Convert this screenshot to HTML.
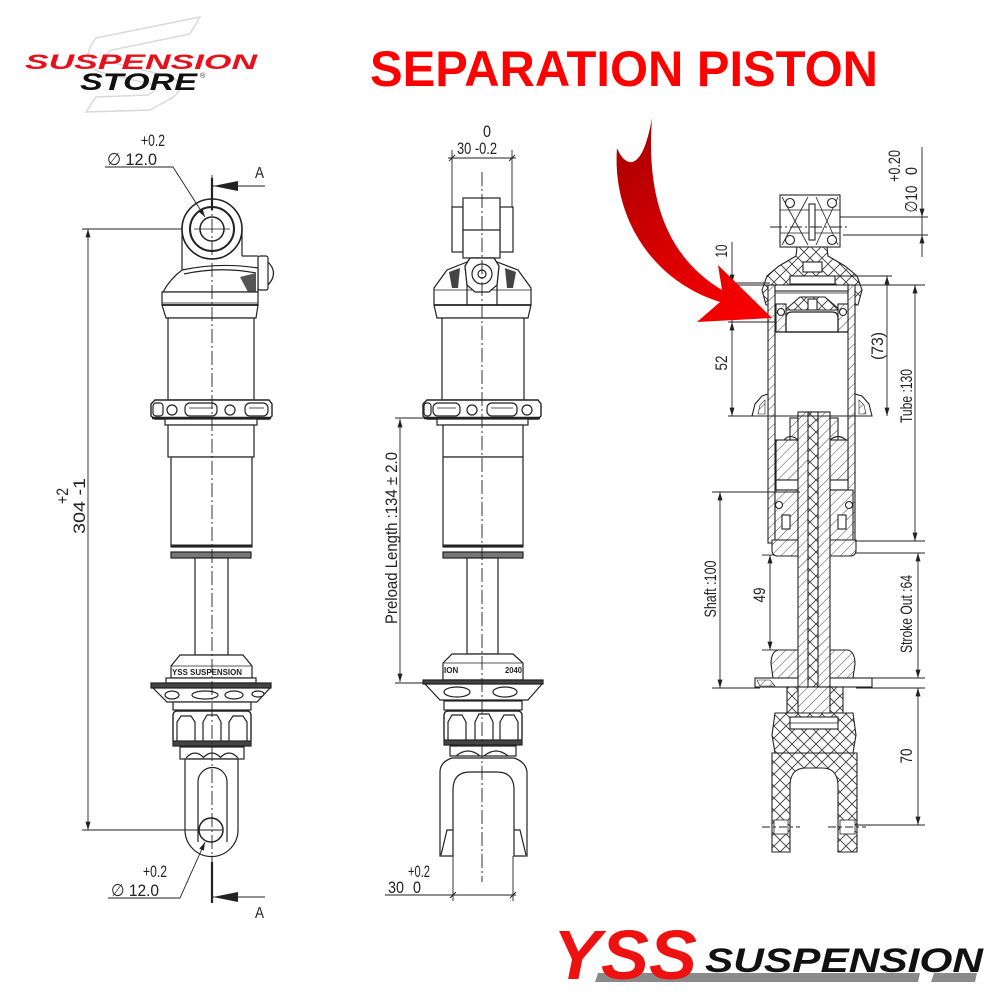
<!DOCTYPE html>
<html><head><meta charset="utf-8"><style>
html,body{margin:0;padding:0;background:#fff;}
svg{display:block;}
text{font-family:"Liberation Sans",sans-serif;}
</style></head><body>
<svg width="1000" height="1000" viewBox="0 0 1000 1000" xmlns="http://www.w3.org/2000/svg">
<defs>
<marker id="ar" viewBox="0 0 10 6" refX="10" refY="3" markerWidth="10" markerHeight="5" markerUnits="userSpaceOnUse" orient="auto-start-reverse"><path d="M0,0 L10,3 L0,6 z" fill="#222"/></marker>
<pattern id="diag" width="7" height="7" patternUnits="userSpaceOnUse" patternTransform="rotate(45)"><rect width="7" height="7" fill="#fff"/><line x1="0" y1="0" x2="0" y2="7" stroke="#333" stroke-width="0.9"/></pattern>
<pattern id="cross" width="12" height="12" patternUnits="userSpaceOnUse"><rect width="12" height="12" fill="#fff"/><path d="M0,0 L12,12 M12,0 L0,12" stroke="#333" stroke-width="0.8"/></pattern>
<linearGradient id="rg" x1="620" y1="130" x2="772" y2="318" gradientUnits="userSpaceOnUse"><stop offset="0" stop-color="#a80000"/><stop offset="0.5" stop-color="#d60000"/><stop offset="1" stop-color="#ff0000"/></linearGradient>
</defs>

<!-- ===== Top-left logo ===== -->
<g fill="none" stroke="#d9d9d9" stroke-width="1.5">
<path d="M96,38 L200,17 L190,34 L112,50 Q100,56 110,62 L168,76 Q190,84 172,98 L150,110 L86,112 L96,97 L148,95 Q160,88 150,84 L100,72 Q78,62 96,38 Z"/>
</g>
<text x="25" y="69" font-size="21" font-weight="bold" font-style="italic" fill="#e8101a" textLength="232" lengthAdjust="spacingAndGlyphs">SUSPENSION</text>
<text x="80" y="90" font-size="24" font-weight="bold" font-style="italic" fill="#111" textLength="117" lengthAdjust="spacingAndGlyphs">STORE</text>
<text x="200" y="78" font-size="7" fill="#333">®</text>

<!-- ===== Title ===== -->
<text x="370" y="86" font-size="50" font-weight="bold" fill="#ff0000" textLength="508" lengthAdjust="spacingAndGlyphs">SEPARATION PISTON</text>

<!-- ===== LEFT SHOCK ===== -->
<g fill="#fff" stroke="#222" stroke-width="1.2">
<line x1="182" y1="229" x2="182" y2="272"/>
<line x1="242" y1="229" x2="242" y2="256"/>
<line x1="242" y1="256" x2="258" y2="256"/>
<circle cx="212" cy="229" r="30" fill="none" stroke-width="1.6"/>
<circle cx="212" cy="229" r="22" fill="none" stroke-width="2"/>
<circle cx="212" cy="229" r="12" fill="none" stroke-width="1.5"/>
<line x1="194" y1="229" x2="230" y2="229" stroke-width="0.7"/>
<rect x="258" y="256" width="10" height="34" rx="2"/>
<path d="M268,262 Q279,273 268,285" fill="none"/>
<path d="M182,270 Q170,279 163,292 L258,292 L258,268 Q220,262 182,270 Z"/>
<path d="M184,274 Q220,266 256,273" fill="none"/>
<polygon points="240,277 256,273 256,292 248,292" fill="#555" stroke="none"/>
<rect x="162" y="292" width="96" height="13"/>
<line x1="162" y1="303" x2="258" y2="303" stroke-width="0.8"/>
<path d="M162,305 L166,318 L256,318 L258,305 Z"/>
<line x1="162" y1="305" x2="258" y2="305" stroke-width="1.8"/>
<rect x="168" y="318" width="86" height="82"/>
<path d="M151,404 L155,400 L269,400 L272,404 L272,416 L269,419 L155,419 L151,416 Z" stroke-width="1.4"/>
<rect x="185" y="403" width="32" height="13" rx="5"/>
<line x1="189" y1="408" x2="213" y2="408" stroke-width="0.8"/>
<rect x="245" y="403" width="23" height="13" rx="5"/>
<line x1="249" y1="408" x2="264" y2="408" stroke-width="0.8"/>
<rect x="153" y="403" width="10" height="13" rx="3"/>
<circle cx="172" cy="410" r="5"/>
<circle cx="230" cy="410" r="5"/>
<line x1="152" y1="418" x2="271" y2="418" stroke-width="2.5"/>
<rect x="165" y="419" width="92" height="6"/>
<rect x="168" y="425" width="86" height="32"/>
<rect x="171" y="457" width="81" height="90"/>
<line x1="171" y1="546" x2="252" y2="546" stroke-width="3"/>
<rect x="171" y="552" width="80" height="6" fill="#777"/>
<rect x="195" y="558" width="33" height="97"/>
<path d="M180,655 L243,655 L252,666 L252,678 L171,678 L171,666 Z"/>
<line x1="172" y1="666" x2="251" y2="666" stroke-width="0.8"/>
<rect x="166" y="678" width="90" height="5"/>
<rect x="151" y="683" width="120" height="5" fill="#444"/>
<path d="M153,688 L167,702 L257,702 L270,688 Z"/>
<ellipse cx="172" cy="695" rx="7" ry="4"/>
<ellipse cx="205" cy="695" rx="13" ry="4"/>
<ellipse cx="234" cy="695" rx="9" ry="4"/>
<ellipse cx="258" cy="694" rx="6" ry="3"/>
<rect x="173" y="702" width="78" height="8"/>
<rect x="173" y="711" width="78" height="33" rx="4" stroke-width="1.4"/>
<path d="M177,742 L177,722 L181,716 L191,716 L195,722 L195,742 M203,742 L203,722 L207,715 L217,715 L221,722 L221,742 M229,742 L229,722 L233,716 L243,716 L247,722 L247,742" fill="none"/>
<rect x="173" y="741" width="78" height="5" fill="#444"/>
<rect x="180" y="747" width="64" height="12"/>
<path d="M186,758 Q195,748 204,758 M203,758 Q212,748 221,758 M220,758 Q229,748 238,758" fill="none"/>
<path d="M185,759 L185,830 A26.5,26.5 0 0 0 238,830 L238,759 Z"/>
<path d="M198,842 L198,782 A14.5,14.5 0 0 1 227,782 L227,842" fill="none"/>
<circle cx="211" cy="830" r="12" stroke-width="1.5"/>
</g>
<text x="172" y="675" font-size="8" font-weight="bold" fill="#222" textLength="70" lengthAdjust="spacingAndGlyphs">YSS SUSPENSION</text>
<line x1="212" y1="175" x2="212" y2="885" stroke="#222" stroke-width="0.9" stroke-dasharray="14,3,2,3"/>
<g stroke="#222" stroke-width="0.9" fill="none">
<line x1="82" y1="229" x2="182" y2="229"/>
<line x1="82" y1="830" x2="222" y2="830"/>
<line x1="88" y1="229" x2="88" y2="830" marker-start="url(#ar)" marker-end="url(#ar)"/>
<polyline points="105,167 173,167 205,217" marker-end="url(#ar)"/>
<polyline points="108,898 180,898 205,842" marker-end="url(#ar)"/>
<line x1="212" y1="178" x2="212" y2="210" stroke-width="2.2"/>
<line x1="213" y1="186" x2="265" y2="186"/>
<line x1="212" y1="862" x2="212" y2="903" stroke-width="2.2"/>
<line x1="213" y1="897" x2="265" y2="897"/>
</g>
<polygon points="213,186 238,181 238,191" fill="#222"/>
<polygon points="213,897 238,892 238,902" fill="#222"/>
<g fill="#222" font-size="17">
<text x="255" y="178" font-size="16" textLength="9" lengthAdjust="spacingAndGlyphs">A</text>
<text x="255" y="918" font-size="16" textLength="9" lengthAdjust="spacingAndGlyphs">A</text>
<text x="141" y="146" textLength="24" lengthAdjust="spacingAndGlyphs">+0.2</text>
<text x="107" y="165" textLength="50" lengthAdjust="spacingAndGlyphs">∅ 12.0</text>
<text x="143" y="877" textLength="24" lengthAdjust="spacingAndGlyphs">+0.2</text>
<text x="111" y="896" textLength="48" lengthAdjust="spacingAndGlyphs">∅ 12.0</text>
<text transform="translate(68,496) rotate(-90)" text-anchor="middle" font-size="17" textLength="16" lengthAdjust="spacingAndGlyphs">+2</text>
<text transform="translate(85,506) rotate(-90)" text-anchor="middle" font-size="17" textLength="56" lengthAdjust="spacingAndGlyphs">304 -1</text>
</g>

<!-- ===== MIDDLE SHOCK ===== -->
<g fill="#fff" stroke="#222" stroke-width="1.2">
<rect x="452" y="207" width="11" height="45"/>
<rect x="500" y="207" width="13" height="45"/>
<rect x="463" y="198" width="37" height="60"/>
<line x1="463" y1="230" x2="500" y2="230"/>
<path d="M467,262 L447,270 L434,288 L434,305 L437,318 L528,318 L531,305 L531,288 L518,270 L497,262 Z"/>
<line x1="434" y1="290" x2="531" y2="290" stroke-width="0.8"/>
<line x1="434" y1="305" x2="531" y2="305" stroke-width="1.8"/>
<polygon points="449,272 460,268 458,288 452,288" fill="#444" stroke="none"/>
<polygon points="516,272 505,268 507,288 513,288" fill="#444" stroke="none"/>
<path d="M470,258 L494,258 L499,266 L497,285 L497,305 M467,305 L467,285 L465,266 L470,258" fill="none"/>
<path d="M470,258 L494,258 L499,266 L497,285 L489,292 L475,292 L467,285 L465,266 Z"/>
<circle cx="482" cy="274" r="10"/>
<circle cx="482" cy="274" r="4"/>
<rect x="442" y="318" width="82" height="82"/>
<path d="M423,404 L427,400 L538,400 L541,404 L541,416 L538,419 L427,419 L423,416 Z" stroke-width="1.4"/>
<rect x="433" y="403" width="27" height="13" rx="5"/>
<line x1="437" y1="408" x2="456" y2="408" stroke-width="0.8"/>
<rect x="487" y="403" width="30" height="13" rx="5"/>
<line x1="491" y1="408" x2="513" y2="408" stroke-width="0.8"/>
<rect x="424" y="403" width="7" height="13" rx="3"/>
<circle cx="472" cy="410" r="5"/>
<circle cx="527" cy="410" r="5"/>
<line x1="424" y1="418" x2="540" y2="418" stroke-width="2.5"/>
<rect x="437" y="419" width="91" height="6"/>
<rect x="443" y="425" width="80" height="32"/>
<rect x="443" y="457" width="80" height="90"/>
<line x1="443" y1="546" x2="523" y2="546" stroke-width="3"/>
<rect x="443" y="552" width="80" height="6" fill="#777"/>
<rect x="467" y="558" width="31" height="96"/>
<path d="M452,654 L513,654 L523,663 L523,680 L443,680 L443,663 Z"/>
<line x1="444" y1="663" x2="522" y2="663" stroke-width="0.8"/>
<rect x="423" y="680" width="120" height="4" fill="#444"/>
<path d="M425,684 L440,700 L528,700 L542,684 Z"/>
<ellipse cx="457" cy="692" rx="13" ry="5"/>
<ellipse cx="505" cy="692" rx="12" ry="5"/>
<rect x="444" y="701" width="78" height="9"/>
<rect x="444" y="711" width="78" height="31" rx="4" stroke-width="1.4"/>
<path d="M448,740 L448,722 L452,715 L462,715 L466,722 L466,740 M475,740 L475,722 L479,714 L489,714 L493,722 L493,740 M500,740 L500,722 L504,715 L514,715 L518,722 L518,740" fill="none"/>
<rect x="444" y="740" width="78" height="5" fill="#444"/>
<rect x="450" y="746" width="66" height="10"/>
<path d="M456,756 Q468,746 480,756 M484,756 Q496,746 508,756" fill="none"/>
<path d="M440,856 L440,772 Q440,762 452,758 L514,758 Q526,762 527,772 L527,856 L514,856 L514,790 Q514,772 497,772 L470,772 Q453,772 453,790 L453,856 Z"/>
<path d="M441,855 L447,830 L453,830 M526,855 L520,830 L514,830" fill="none"/>
</g>
<text x="444" y="673" font-size="8" font-weight="bold" fill="#222">ION</text>
<text x="505" y="673" font-size="8" font-weight="bold" fill="#222" textLength="17" lengthAdjust="spacingAndGlyphs">2040</text>
<line x1="482" y1="172" x2="482" y2="882" stroke="#222" stroke-width="0.9" stroke-dasharray="14,3,2,3"/>
<g stroke="#222" stroke-width="0.9" fill="none">
<line x1="452" y1="150" x2="452" y2="207"/>
<line x1="512" y1="150" x2="512" y2="207"/>
<line x1="448" y1="158" x2="516" y2="158"/>
<path d="M449,161 L455,155 M509,161 L515,155"/>
<line x1="453" y1="856" x2="453" y2="901"/>
<line x1="513" y1="856" x2="513" y2="901"/>
<line x1="385" y1="895" x2="516" y2="895"/>
<path d="M450,898 L456,892 M510,898 L516,892"/>
<line x1="395" y1="418" x2="437" y2="418"/>
<line x1="395" y1="683" x2="423" y2="683"/>
<line x1="400" y1="419" x2="400" y2="682" marker-start="url(#ar)" marker-end="url(#ar)"/>
</g>
<g fill="#222" font-size="17">
<text x="487" y="137" text-anchor="middle" textLength="8" lengthAdjust="spacingAndGlyphs">0</text>
<text x="477" y="154" text-anchor="middle" textLength="40" lengthAdjust="spacingAndGlyphs">30 -0.2</text>
<text x="408" y="877" textLength="22" lengthAdjust="spacingAndGlyphs">+0.2</text>
<text x="388" y="893" textLength="16" lengthAdjust="spacingAndGlyphs">30</text>
<text x="413" y="893" textLength="8" lengthAdjust="spacingAndGlyphs">0</text>
<text transform="translate(397,538) rotate(-90)" text-anchor="middle" font-size="17" textLength="172" lengthAdjust="spacingAndGlyphs">Preload Length :134 ± 2.0</text>
</g>

<!-- ===== RIGHT SECTION ===== -->
<g stroke="#222" stroke-width="1.1">
<rect x="780" y="195" width="60" height="52" fill="#fff"/>
<path d="M782,197 L808,245 M808,197 L782,245 M816,197 L838,245 M838,197 L816,245" fill="none" stroke-width="0.8"/>
<line x1="780" y1="210" x2="840" y2="210" stroke-width="0.8"/>
<line x1="780" y1="233" x2="840" y2="233" stroke-width="0.8"/>
<rect x="809" y="204" width="6" height="36" fill="#fff"/>
<circle cx="790" cy="203" r="4.5" fill="#fff"/>
<circle cx="832" cy="203" r="4.5" fill="#fff"/>
<circle cx="790" cy="240" r="4.5" fill="#fff"/>
<circle cx="832" cy="240" r="4.5" fill="#fff"/>
<path d="M797,247 L827,247 L828,256 L845,266 L857,276 L862,290 L858,305 L848,305 L848,285 L775,285 L775,305 L766,305 L762,290 L767,276 L779,266 L796,256 Z" fill="url(#cross)"/>
<rect x="803" y="262" width="19" height="10" fill="#fff"/>
<rect x="790" y="276" width="45" height="8" fill="#fff"/>
<rect x="768" y="285" width="7" height="258" fill="url(#diag)"/>
<rect x="848" y="285" width="7" height="258" fill="url(#diag)"/>
<rect x="775" y="285" width="73" height="6" fill="#fff"/>
<line x1="775" y1="293" x2="848" y2="293" stroke-width="0.8"/>
<polygon points="785,310 800,297 825,297 840,310" fill="url(#cross)"/>
<rect x="808" y="299" width="9" height="11" fill="#fff"/>
<rect x="776" y="304" width="10" height="28" fill="url(#diag)"/>
<rect x="838" y="304" width="10" height="28" fill="url(#diag)"/>
<path d="M786,332 L786,318 Q786,312 792,312 L832,312 Q838,312 838,318 L838,332 Z" fill="#fff" stroke-width="1.3"/>
<circle cx="781" cy="312" r="3.5" fill="#fff"/>
<circle cx="843" cy="312" r="3.5" fill="#fff"/>
<line x1="775" y1="332" x2="848" y2="332" stroke-width="1.3"/>
<path d="M752,416 L755,404 L762,396 L768,394 L768,416 Z" fill="#fff"/>
<path d="M758,414 L760,405 L765,400 L765,414 Z" fill="url(#diag)" stroke-width="0.6"/>
<path d="M872,416 L869,404 L862,396 L855,394 L855,416 Z" fill="#fff"/>
<path d="M866,414 L864,405 L859,400 L859,414 Z" fill="url(#diag)" stroke-width="0.6"/>
<rect x="790" y="418" width="8" height="22" fill="url(#diag)"/>
<rect x="830" y="418" width="8" height="22" fill="url(#diag)"/>
<rect x="776" y="440" width="22" height="40" fill="url(#diag)"/>
<rect x="830" y="440" width="18" height="40" fill="url(#diag)"/>
<path d="M784,440 Q790,433 798,440 M830,440 Q838,433 846,440" fill="none"/>
<rect x="776" y="480" width="22" height="10" fill="#fff"/>
<rect x="830" y="480" width="18" height="10" fill="#fff"/>
<rect x="775" y="490" width="23" height="50" fill="url(#diag)"/>
<rect x="830" y="490" width="23" height="50" fill="url(#diag)"/>
<circle cx="779" cy="505" r="3.5" fill="#fff"/>
<circle cx="849" cy="505" r="3.5" fill="#fff"/>
<rect x="782" y="515" width="8" height="14" fill="#fff"/>
<rect x="838" y="515" width="8" height="14" fill="#fff"/>
<path d="M772,540 L798,540 L798,556 L778,556 Q772,556 772,550 Z" fill="url(#diag)"/>
<path d="M856,540 L830,540 L830,556 L850,556 Q856,556 856,550 Z" fill="url(#diag)"/>
<path d="M778,650 L848,650 Q855,652 855,664 L853,678 L773,678 L771,664 Q771,652 778,650 Z" fill="url(#diag)"/>
<rect x="755" y="678" width="117" height="9" fill="#fff"/>
<path d="M757,680 L770,680 L775,686 L760,686 Z" fill="url(#diag)" stroke-width="0.6"/>
<rect x="798" y="412" width="32" height="305" fill="url(#diag)"/>
<rect x="808" y="412" width="10" height="305" fill="url(#cross)"/>
<rect x="787" y="687" width="56" height="26" fill="url(#cross)"/>
<rect x="798" y="687" width="32" height="30" fill="url(#diag)"/>
<path d="M775,713 L853,713 L856,735 L853,753 L775,753 L772,735 Z" fill="url(#cross)"/>
<rect x="790" y="717" width="48" height="12" fill="#fff"/>
<line x1="790" y1="723" x2="838" y2="723" stroke-width="0.8"/>
<path d="M772,753 L857,753 L857,852 L838,852 L838,786 Q838,768 822,768 L806,768 Q790,768 790,786 L790,852 L772,852 Z" fill="url(#cross)"/>
<rect x="774" y="820" width="14" height="14" fill="#fff" stroke-width="0.8"/>
<rect x="840" y="820" width="15" height="14" fill="#fff" stroke-width="0.8"/>
</g>
<g stroke="#222" stroke-width="0.9" fill="none">
<line x1="770" y1="227" x2="848" y2="227" stroke-dasharray="12,3,2,3"/>
<line x1="762" y1="827" x2="800" y2="827" stroke-dasharray="8,3,3,3"/>
<line x1="828" y1="827" x2="866" y2="827" stroke-dasharray="8,3,3,3"/>
<line x1="840" y1="217" x2="928" y2="217"/>
<line x1="843" y1="235" x2="928" y2="235"/>
<line x1="922" y1="147" x2="922" y2="217" marker-end="url(#ar)"/>
<line x1="922" y1="217" x2="922" y2="235"/>
<line x1="922" y1="257" x2="922" y2="235" marker-end="url(#ar)"/>
<line x1="728" y1="283" x2="770" y2="283"/>
<line x1="728" y1="322" x2="776" y2="322"/>
<line x1="732" y1="242" x2="732" y2="283" marker-end="url(#ar)"/>
<line x1="732" y1="283" x2="732" y2="322"/>
<line x1="732" y1="322" x2="732" y2="416" marker-start="url(#ar)" marker-end="url(#ar)"/>
<line x1="728" y1="416" x2="862" y2="416"/>
<line x1="830" y1="276" x2="892" y2="276"/>
<line x1="887" y1="276" x2="887" y2="416" marker-start="url(#ar)" marker-end="url(#ar)"/>
<line x1="737" y1="285" x2="925" y2="285"/>
<line x1="855" y1="541" x2="925" y2="541"/>
<line x1="915" y1="285" x2="915" y2="541" marker-start="url(#ar)" marker-end="url(#ar)"/>
<line x1="855" y1="553" x2="925" y2="553"/>
<line x1="860" y1="678" x2="925" y2="678"/>
<line x1="918" y1="553" x2="918" y2="678" marker-start="url(#ar)" marker-end="url(#ar)"/>
<line x1="856" y1="688" x2="925" y2="688"/>
<line x1="855" y1="825" x2="925" y2="825"/>
<line x1="918" y1="688" x2="918" y2="825" marker-start="url(#ar)" marker-end="url(#ar)"/>
<line x1="712" y1="492" x2="800" y2="492"/>
<line x1="712" y1="688" x2="760" y2="688"/>
<line x1="720" y1="492" x2="720" y2="688" marker-start="url(#ar)" marker-end="url(#ar)"/>
<line x1="762" y1="555" x2="775" y2="555"/>
<line x1="762" y1="650" x2="777" y2="650"/>
<line x1="770" y1="555" x2="770" y2="650" marker-start="url(#ar)" marker-end="url(#ar)"/>
</g>
<g fill="#222" font-size="17">
<text transform="translate(917,199) rotate(-90)" text-anchor="middle" textLength="27" lengthAdjust="spacingAndGlyphs">∅10</text>
<text transform="translate(900,166) rotate(-90)" text-anchor="middle" textLength="32" lengthAdjust="spacingAndGlyphs">+0.20</text>
<text transform="translate(917,171) rotate(-90)" text-anchor="middle" textLength="8" lengthAdjust="spacingAndGlyphs">0</text>
<text transform="translate(727,251) rotate(-90)" text-anchor="middle" textLength="13" lengthAdjust="spacingAndGlyphs">10</text>
<text transform="translate(727,363) rotate(-90)" text-anchor="middle" textLength="15" lengthAdjust="spacingAndGlyphs">52</text>
<text transform="translate(883,346) rotate(-90)" text-anchor="middle" textLength="28" lengthAdjust="spacingAndGlyphs">(73)</text>
<text transform="translate(912,396) rotate(-90)" text-anchor="middle" textLength="54" lengthAdjust="spacingAndGlyphs">Tube :130</text>
<text transform="translate(912,614) rotate(-90)" text-anchor="middle" textLength="78" lengthAdjust="spacingAndGlyphs">Stroke Out :64</text>
<text transform="translate(912,756) rotate(-90)" text-anchor="middle" textLength="15" lengthAdjust="spacingAndGlyphs">70</text>
<text transform="translate(716,589) rotate(-90)" text-anchor="middle" textLength="57" lengthAdjust="spacingAndGlyphs">Shaft :100</text>
<text transform="translate(765,595) rotate(-90)" text-anchor="middle" textLength="15" lengthAdjust="spacingAndGlyphs">49</text>
</g>

<!-- ===== Red arrow ===== -->
<path d="M652,118 C648,140 642,160 632,162 C625,163 620,155 617,148 C612,215 650,280 720,302 L697,322 L772,318 L718,265 L722,290 C675,262 645,210 652,118 Z" fill="url(#rg)"/>

<!-- ===== YSS logo ===== -->
<polygon points="598,973 920,973 918,982 595,982" fill="#8a8a8a"/>
<polygon points="934,973 977,973 975,982 931,982" fill="#8a8a8a"/>
<text x="553" y="979" font-size="70" font-weight="bold" font-style="italic" fill="#ee1111" textLength="144" lengthAdjust="spacingAndGlyphs">YSS</text>
<text x="705" y="972" font-size="34" font-weight="bold" font-style="italic" fill="#111" textLength="278" lengthAdjust="spacingAndGlyphs">SUSPENSION</text>
</svg>
</body></html>
